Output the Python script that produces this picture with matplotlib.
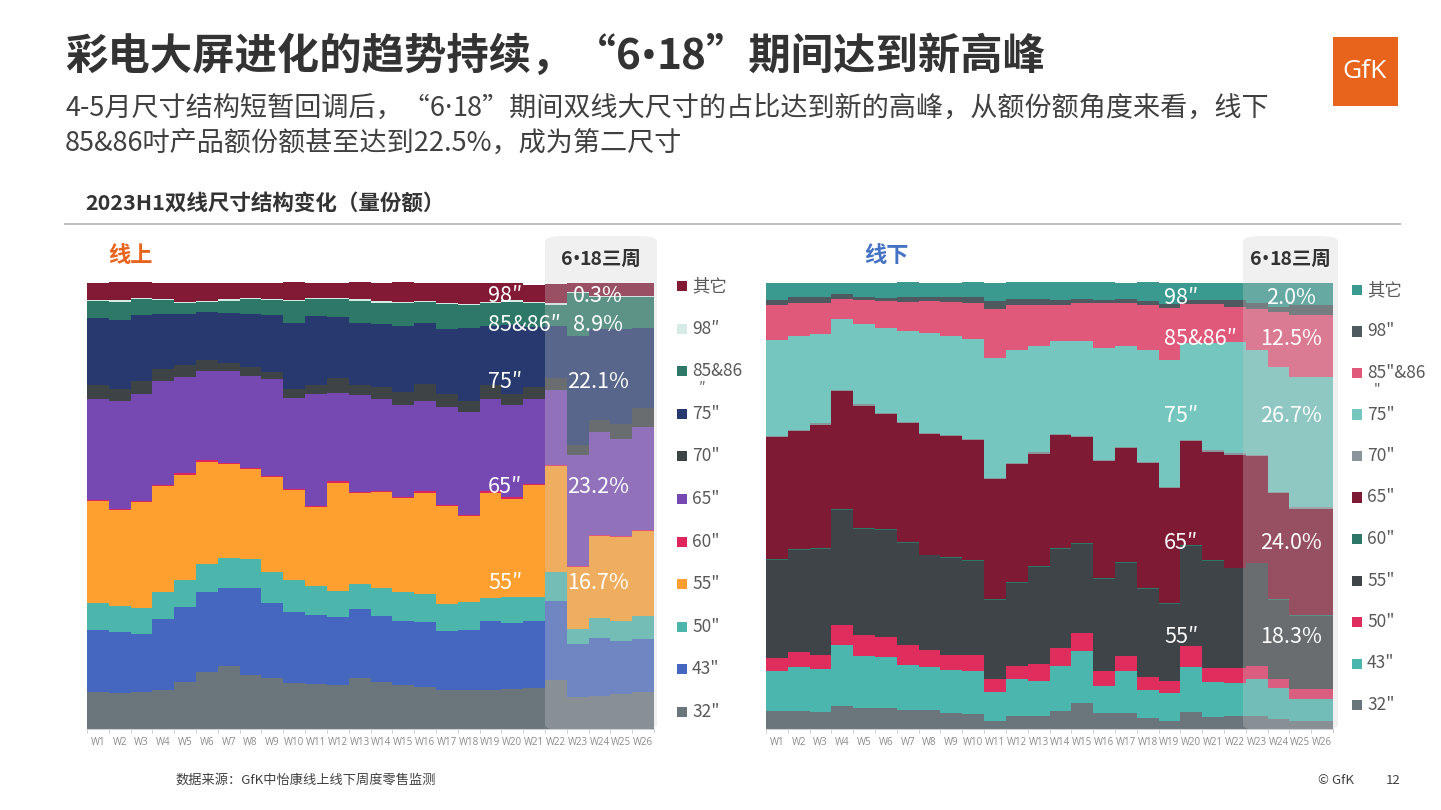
import numpy as np
import matplotlib
matplotlib.use("Agg")
import matplotlib.pyplot as plt
from matplotlib.patches import FancyBboxPatch, Rectangle

plt.rcParams['font.family'] = ['Noto Sans CJK SC', 'DejaVu Sans']

weeks = [f"W{i}" for i in range(1, 27)]

# ---------------- 线上 (online) shares, % ----------------
on_sizes = ['32"', '43"', '50"', '55"', '60"', '65"', '70"', '75"', '85&86″', '98″', '其它']
on_colors = ['#6b757c', '#4667bf', '#4cb6ac', '#fea02f', '#e0245c', '#7649b2',
             '#3e4346', '#27396e', '#2d7867', '#d6ebe5', '#821a36']
on_32 = [8.3, 8.1, 8.2, 8.8, 10.6, 12.7, 14.1, 12.1, 11.4, 10.3, 10.1, 9.9, 11.4,
         10.5, 9.8, 9.5, 8.8, 8.8, 8.8, 8.9, 9.3, 10.9, 7.1, 7.5, 7.9, 8.2]
on_43 = [13.9, 13.6, 13.1, 15.8, 16.8, 18.0, 17.5, 19.5, 16.9, 15.9, 15.4, 15.3, 15.5,
         14.9, 14.3, 14.5, 13.1, 13.4, 15.5, 14.8, 15.0, 17.7, 11.9, 12.9, 11.9, 11.9]
on_50 = [6.1, 5.9, 5.8, 6.0, 6.0, 6.3, 6.8, 6.6, 6.9, 7.2, 6.5, 5.8, 5.7,
         6.3, 6.6, 6.2, 6.2, 6.3, 5.0, 5.8, 5.2, 6.7, 3.4, 4.5, 4.3, 5.2]
on_55 = [22.8, 21.5, 23.8, 23.8, 23.6, 22.9, 21.0, 20.1, 21.2, 20.1, 17.8, 24.2, 20.2,
         21.4, 21.0, 22.8, 21.8, 19.2, 23.7, 22.1, 25.2, 23.6, 13.9, 18.3, 18.9, 19.1]
on_60 = [0.3] * 26
on_65 = [22.5, 24.1, 24.0, 23.3, 21.6, 20.1, 20.5, 20.5, 21.7, 20.3, 25.0, 19.8, 21.7,
         20.6, 20.7, 20.3, 22.0, 23.0, 20.7, 20.7, 18.9, 16.9, 24.8, 23.1, 21.8, 23.1]
on_70 = [3.1, 2.7, 2.8, 2.7, 2.6, 2.4, 1.9, 2.0, 1.6, 2.2, 2.0, 3.4, 2.4,
         2.7, 2.8, 3.7, 3.0, 2.6, 3.2, 2.6, 2.8, 2.6, 2.2, 2.6, 3.2, 4.2]
on_75 = [15.1, 15.4, 14.8, 12.3, 11.6, 10.7, 11.1, 11.9, 12.8, 14.8, 15.5, 13.7, 13.9,
         14.0, 14.9, 13.6, 14.5, 16.3, 13.2, 15.4, 13.4, 11.6, 24.6, 20.5, 21.4, 17.9]
on_85 = [3.8, 4.2, 3.5, 3.1, 2.4, 2.3, 2.8, 3.4, 3.4, 4.8, 3.7, 4.0, 4.9,
         4.9, 5.1, 4.8, 5.6, 5.1, 5.0, 5.2, 5.4, 4.8, 9.5, 7.1, 7.1, 6.9]
on_98 = [0.3] * 26
on_other = [3.8, 4.0, 3.5, 3.6, 4.2, 4.0, 3.6, 3.3, 3.5, 3.9, 3.4, 3.3, 3.8,
            4.1, 4.4, 3.9, 4.4, 4.6, 4.3, 3.9, 3.8, 4.4, 2.0, 2.9, 2.9, 2.9]
on_series = [on_32, on_43, on_50, on_55, on_60, on_65, on_70, on_75, on_85, on_98, on_other]

# ---------------- 线下 (offline) shares, % ----------------
off_sizes = ['32"', '43"', '50"', '55"', '60"', '65"', '70"', '75"', '85"&86"', '98"', '其它']
off_colors = ['#6b757c', '#4bb6ae', '#df2e5e', '#3e4448', '#2c7767', '#7f1a34',
              '#8a949a', '#74c6bf', '#e0587a', '#4f5a60', '#3a9a8f']
off_32 = [4.0, 4.0, 3.7, 5.2, 4.8, 4.7, 4.3, 4.3, 3.6, 3.4, 1.9, 3.0, 3.0,
          4.0, 5.8, 3.6, 3.6, 2.5, 1.9, 3.8, 2.8, 3.0, 3.0, 2.2, 1.7, 1.7]
off_43 = [8.9, 9.8, 9.7, 13.7, 11.6, 11.4, 10.1, 9.5, 9.7, 9.7, 6.5, 8.2, 7.8,
          10.1, 11.6, 6.0, 9.3, 6.2, 6.1, 10.1, 7.8, 7.3, 8.2, 6.9, 5.0, 5.0]
off_50 = [3.0, 3.4, 3.2, 4.4, 4.6, 4.6, 4.5, 3.9, 3.4, 3.4, 2.8, 3.0, 3.7,
          4.1, 4.1, 3.4, 3.5, 3.0, 2.8, 4.6, 3.1, 3.4, 3.0, 2.0, 2.3, 2.3]
off_55 = [22.0, 22.9, 23.7, 25.8, 23.8, 23.9, 22.9, 21.2, 21.6, 21.1, 17.8, 18.5, 21.9,
          22.2, 19.9, 20.7, 20.9, 19.7, 17.3, 22.5, 24.0, 22.3, 22.9, 17.9, 16.4, 16.4]
off_60 = [0.2] * 26
off_65 = [27.3, 26.5, 27.7, 26.5, 27.5, 25.7, 26.6, 27.0, 27.1, 26.9, 26.8, 26.5, 25.1,
          25.3, 23.8, 26.2, 25.4, 28.0, 25.7, 23.3, 24.3, 25.3, 23.8, 23.6, 23.8, 23.8]
off_70 = [0.3] * 26
off_75 = [21.6, 21.1, 20.1, 15.7, 17.9, 19.2, 20.3, 22.3, 22.1, 22.4, 26.8, 25.2, 23.8,
          20.8, 21.3, 25.0, 22.7, 25.0, 28.5, 21.8, 24.1, 25.0, 23.5, 28.0, 29.2, 29.2]
off_85 = [7.7, 7.3, 6.9, 4.6, 5.4, 6.0, 6.6, 7.2, 7.7, 8.2, 11.0, 10.1, 9.2,
          8.1, 8.4, 10.1, 9.5, 10.1, 11.6, 8.6, 8.6, 7.8, 9.3, 12.3, 13.9, 13.9]
off_98 = [1.1, 1.3, 1.3, 1.0, 0.7, 0.6, 1.0, 1.0, 1.1, 1.3, 1.9, 1.3, 1.3,
          1.1, 0.9, 0.7, 1.0, 1.0, 0.9, 0.9, 0.9, 1.5, 1.3, 1.3, 2.2, 2.2]
off_other = [3.9, 3.2, 3.2, 2.6, 3.1, 3.4, 3.4, 3.1, 3.2, 3.2, 3.9, 3.8, 3.8,
             3.9, 3.8, 4.0, 3.6, 4.1, 4.7, 3.8, 3.8, 3.9, 4.5, 5.2, 4.9, 4.9]
off_series = [off_32, off_43, off_50, off_55, off_60, off_65, off_70, off_75, off_85, off_98, off_other]

# annotation labels in the 6·18 window
on_ann_sizes = ['98″', '85&86″', '75″', '65″', '55″']
on_ann_vals = ['0.3%', '8.9%', '22.1%', '23.2%', '16.7%']
off_ann_sizes = ['98″', '85&86″', '75″', '65″', '55″']
off_ann_vals = ['2.0%', '12.5%', '26.7%', '24.0%', '18.3%']

W, H = 1441, 810
fig = plt.figure(figsize=(W / 100, H / 100), dpi=100)
fig.patch.set_facecolor('white')
renderer = fig.canvas.get_renderer()

CJK = ['Noto Sans CJK SC', 'DejaVu Sans']
LAT = ['Noto Sans', 'DejaVu Sans']


def fx(px):
    return px / W


def fy(py):
    return 1 - py / H


def rich(xp, yp, s, ha='left', **kw):
    """Text whose bullet / middle dot are drawn in a Latin font (narrow)."""
    runs = []
    cur = ''
    for ch in s:
        if ch in '•·':
            if cur:
                runs.append((cur, CJK))
            runs.append((ch, LAT))
            cur = ''
        else:
            cur += ch
    if cur:
        runs.append((cur, CJK))
    x = fx(xp)
    texts = []
    for run, fam in runs:
        t = fig.text(x, fy(yp), run, family=fam, va='baseline', ha='left', **kw)
        bb = t.get_window_extent(renderer)
        x += bb.width / W
        texts.append(t)
    if ha == 'center':
        total = x - fx(xp)
        for t in texts:
            px_, py_ = t.get_position()
            t.set_position((px_ - total / 2, py_))
    return texts


def draw_stack(ax, series, colors):
    n = len(weeks)
    edges = np.arange(n + 1) - 0.5
    bottom = np.zeros(n)
    for vals, c in zip(series, colors):
        v = np.array(vals, dtype=float)
        top = bottom + v
        ax.fill_between(edges, np.append(bottom, bottom[-1]), np.append(top, top[-1]),
                        step='post', color=c, linewidth=0)
        bottom = top
    ax.set_xlim(-0.5, n - 0.5)
    ax.set_ylim(0, bottom.max())
    ax.set_yticks([])
    for s in ['top', 'right', 'left']:
        ax.spines[s].set_visible(False)
    ax.spines['bottom'].set_color('#d0d0d0')
    x = np.arange(n)
    ax.set_xticks(x)
    ax.set_xticklabels(weeks, fontsize=7, color='#8c8c8c', family=['Open Sans', 'DejaVu Sans'])
    ax.tick_params(axis='x', which='major', length=0, pad=6)
    ax.set_xticks(np.arange(-0.5, n + 0.5, 1.0), minor=True)
    ax.tick_params(axis='x', which='minor', length=3, color='#c8c8c8')


axL = fig.add_axes([fx(87), fy(729), fx(654) - fx(87), fy(282) - fy(729)])
draw_stack(axL, on_series, on_colors)
axR = fig.add_axes([fx(766), fy(729), fx(1333) - fx(766), fy(282) - fy(729)])
draw_stack(axR, off_series, off_colors)

# highlight windows
for x0, x1 in [(545, 657), (1243, 1338)]:
    box = FancyBboxPatch((fx(x0), fy(730)), fx(x1) - fx(x0), fy(236) - fy(730),
                         boxstyle="round,pad=0,rounding_size=0.012",
                         transform=fig.transFigure, facecolor='#cfcfcf', alpha=0.3,
                         edgecolor='none', zorder=2, mutation_aspect=H / W)
    fig.patches.append(box)
    rich((x0 + x1) / 2, 265, '6•18三周', ha='center', fontsize=14, fontweight='bold',
         color='#333333', zorder=5)

# in-chart annotations
lab_font = dict(fontsize=15.5, color='white', va='center', zorder=6)
on_rows = [296, 325, 382, 487, 583]
for s, v, yy in zip(on_ann_sizes, on_ann_vals, on_rows):
    fig.text(fx(488), fy(yy), s, ha='left', **lab_font)
    fig.text(fx(598), fy(yy), v, ha='center', **lab_font)
off_rows = [298, 339, 416, 543, 637]
for s, v, yy in zip(off_ann_sizes, off_ann_vals, off_rows):
    fig.text(fx(1164), fy(yy), s, ha='left', **lab_font)
    fig.text(fx(1291), fy(yy), v, ha='center', **lab_font)


# legends (top entry = last series)
def draw_legend(names, colors, xm, y0, dy):
    for i, (n, c) in enumerate(zip(names[::-1], colors[::-1])):
        yy = y0 + i * dy
        fig.patches.append(Rectangle((fx(xm), fy(yy + 5)), fx(10), fy(0) - fy(10),
                                     transform=fig.transFigure, facecolor=c, edgecolor='none'))
        if len(n) > 5:
            first, rest = n[:-1], n[-1]
            fig.text(fx(xm + 15), fy(yy), first, fontsize=12.5, color='#595959', va='center', ha='left')
            fig.text(fx(xm + 22), fy(yy + 17), rest, fontsize=10, color='#595959', va='center', ha='left')
        else:
            fig.text(fx(xm + 15), fy(yy), n, fontsize=12.5, color='#595959', va='center', ha='left')


draw_legend(on_sizes, on_colors, 677, 286, 42.6)
draw_legend(off_sizes, off_colors, 1352, 290, 41.5)

# titles and texts
rich(65, 69, '彩电大屏进化的趋势持续，“6•18”期间达到新高峰', fontsize=30.5,
     fontweight='bold', color='#333333')
rich(65, 116, '4-5月尺寸结构短暂回调后，“6·18”期间双线大尺寸的占比达到新的高峰，从额份额角度来看，线下',
     fontsize=19.5, color='#404040')
rich(65, 151, '85&86吋产品额份额甚至达到22.5%，成为第二尺寸', fontsize=19.5, color='#404040')
fig.text(fx(85), fy(203), '2023H1双线尺寸结构变化（量份额）', fontsize=15.5, fontweight='bold',
         color='#333333', va='center', ha='left')
fig.add_artist(plt.Line2D([fx(65), fx(1400)], [fy(224), fy(224)], color='#bfbfbf', lw=1.5,
                          transform=fig.transFigure))
fig.text(fx(108), fy(255), '线上', fontsize=16, fontweight='bold', color='#e8641c', va='center', ha='left')
fig.text(fx(864), fy(255), '线下', fontsize=16, fontweight='bold', color='#4472c4', va='center', ha='left')

# GfK logo
fig.patches.append(Rectangle((fx(1333), fy(106)), fx(65), fy(37) - fy(106), transform=fig.transFigure,
                             facecolor='#e8641c', edgecolor='none'))
fig.text(fx(1365), fy(72), 'GfK', fontsize=19, color='white', ha='center', va='center',
         family=['Open Sans', 'DejaVu Sans'])

# footer
fig.text(fx(175), fy(780), '数据来源：GfK中怡康线上线下周度零售监测', fontsize=9.5, color='#404040',
         va='center', ha='left')
fig.text(fx(1318), fy(780), '© GfK', fontsize=9.5, color='#404040', va='center', ha='left')
fig.text(fx(1393), fy(780), '12', fontsize=9.5, color='#404040', va='center', ha='center')

fig.savefig('out.png', dpi=100)
